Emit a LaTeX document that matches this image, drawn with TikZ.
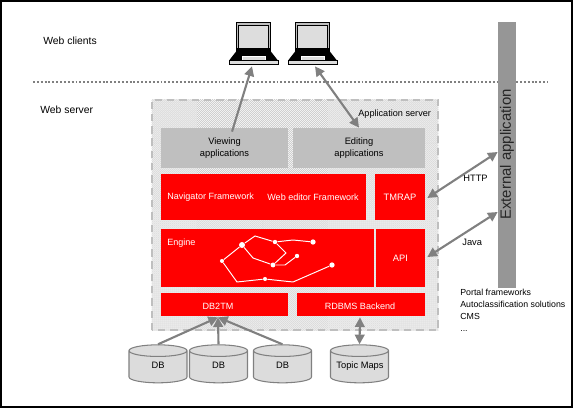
\documentclass[tikz,border=0pt]{standalone}
\usepackage{fontspec}
\setmainfont{Liberation Sans}
\usetikzlibrary{arrows.meta,calc,patterns,shapes.geometric}
\definecolor{ink}{HTML}{000000}
\definecolor{linkGrey}{HTML}{808080}
\definecolor{appGrey}{HTML}{BFBFBF}
\definecolor{barGrey}{HTML}{969696}
\definecolor{dbFill}{HTML}{DCDCDC}
\definecolor{screenFill}{HTML}{DDDDDD}
\definecolor{coreRed}{HTML}{FF0000}
\pgfdeclarepatternformonly{stipple}{\pgfqpoint{-0.1pt}{-0.1pt}}{\pgfqpoint{1.3pt}{1.3pt}}{\pgfqpoint{1.134pt}{1.134pt}}{
    \pgfpathrectangle{\pgfpointorigin}{\pgfqpoint{0.567pt}{0.567pt}}
    \pgfpathrectangle{\pgfqpoint{0.567pt}{0.567pt}}{\pgfqpoint{0.567pt}{0.567pt}}
    \pgfusepath{fill}
}
\tikzset{
    caption/.style={font=\fontsize{5.9pt}{7pt}\selectfont, text=ink, inner sep=0pt, align=left},
    appblock/.style={fill=appGrey, minimum height=0.8cm, inner sep=0pt, align=center,
                     font=\fontsize{5.3pt}{6.6pt}\selectfont, text=ink},
    coreblock/.style={fill=coreRed, inner sep=0pt, align=center,
                      font=\fontsize{5.3pt}{6.6pt}\selectfont, text=white},
    redcaption/.style={font=\fontsize{5.15pt}{6.6pt}\selectfont, text=white, inner sep=0pt},
    dbstore/.style={cylinder, shape border rotate=90, aspect=0.9, draw=linkGrey, fill=dbFill,
                    line width=0.6pt, minimum width=1.16cm, minimum height=0.76cm, inner sep=0pt,
                    font=\fontsize{5.3pt}{6.6pt}\selectfont},
    dbtext/.style={font=\fontsize{5.3pt}{6.6pt}\selectfont, text=ink, inner sep=0pt},
    laptopbox/.style={minimum width=0.98cm, minimum height=0.84cm, inner sep=0pt},
    link/.style={linkGrey, line width=1.2pt, -{Triangle[length=5.5pt,width=5.5pt]}},
    biglink/.style={linkGrey, line width=1.2pt, {Triangle[length=5.5pt,width=5.5pt]}-{Triangle[length=5.5pt,width=5.5pt]}},
    graphdot/.style={circle, fill=white, inner sep=0pt, minimum size=#1},
    graphdot/.default=2.3pt,
    graphedge/.style={white, line width=0.55pt},
    laptop/.pic={
        \draw[fill=appGrey, line width=0.5pt] (-17,-21) rectangle (17,8);
        \draw[fill=screenFill, line width=0.5pt] (-15,-18) rectangle (15,5);
        \fill[ink] (-17,5) rectangle (17,8);
        \fill[ink] (-17,8) -- (17,8) -- (24,17) -- (-24,17) -- cycle;
        \draw[white, fill=screenFill, line width=0.3pt] (-11.5,13.5) rectangle (11.5,17);
        \draw[fill=screenFill, line width=0.5pt] (-24.5,17) rectangle (24.5,21);
    },
}

\begin{document}
\begin{tikzpicture}[x=0.02cm, y=-0.02cm]
\useasboundingbox (0,0) rectangle (575,408);
\draw[ink, line width=0.6pt] (1,1) rectangle (572,407);

% ---------------------------------------------------------------------------
% Clients
% ---------------------------------------------------------------------------
\node[caption, anchor=west] (webclients) at (43,41) {Web clients};
\node[laptopbox] (laptopA) at (253.5,43) {};
\node[laptopbox] (laptopB) at (312.5,43) {};
\pic at (laptopA) {laptop};
\pic at (laptopB) {laptop};
\coordinate (tierleft) at (33,82);
\coordinate (tierright) at (548,82);
\draw[linkGrey, line width=1pt, dash pattern=on 1.1pt off 1.1pt] (tierleft) -- (tierright);

% ---------------------------------------------------------------------------
% Application server
% ---------------------------------------------------------------------------
\node[caption, anchor=west] (webserver) at (40,110) {Web server};
\node[minimum width=5.72cm, minimum height=4.6cm, inner sep=0pt, fill=white] (appserver) at (295,215) {};
\fill[pattern=stipple, pattern color=appGrey!75] (appserver.south west) rectangle (appserver.north east);
\draw[appGrey, line width=1.1pt, dash pattern=on 4.2pt off 2.8pt] (appserver.south west) rectangle (appserver.north east);
\node[caption, anchor=west, font=\fontsize{5.2pt}{6.6pt}\selectfont] (appservertext) at (358,114) {Application server};

\node[appblock, minimum width=2.54cm] (viewing) at (224.5,148) {Viewing\\applications};
\node[appblock, minimum width=2.64cm] (editing) at (359,148) {Editing\\applications};

\node[coreblock, minimum width=4.1cm, minimum height=0.92cm] (frameworks) at (263.5,197) {};
\node[redcaption, anchor=west] (navigator) at (167,197) {Navigator Framework};
\node[redcaption, anchor=west] (webeditor) at (267,197) {Web editor Framework};
\node[coreblock, minimum width=1cm, minimum height=0.92cm] (tmrap) at (400,197) {TMRAP};

\node[coreblock, minimum width=4.26cm, minimum height=1.16cm] (engine) at (267.5,258) {};
\node[redcaption, anchor=west] (enginetext) at (167,243) {Engine};
\node[coreblock, minimum width=0.98cm, minimum height=1.16cm] (api) at (400.5,258) {API};

\node[coreblock, minimum width=2.54cm, minimum height=0.46cm] (dbtm) at (224.5,304.5) {};
\node[redcaption] (dbtmtext) at (218,306.5) {DB2TM};
\node[coreblock, minimum width=2.56cm, minimum height=0.46cm] (backend) at (361,304.5) {};
\node[redcaption] (backendtext) at (360,306.5) {RDBMS Backend};

% Topic map drawn in the engine
\node[graphdot=3.4pt] (hub) at (242,245) {};
\node[graphdot] (left) at (222,261) {};
\node[graphdot] (low) at (265,279) {};
\node[graphdot=3pt] (far) at (332,265) {};
\node[graphdot=2.8pt] (mid) at (273,265) {};
\node[graphdot=2.5pt] (tip) at (297,256) {};
\node[graphdot=2.5pt] (upper) at (275,242) {};
\node[graphdot=3pt] (end) at (313,242) {};
\coordinate (bendA) at (237,282);
\coordinate (bendB) at (293,282);
\coordinate (bendC) at (255,236);
\coordinate (bendD) at (293,240);
\coordinate (bendE) at (286,253);
\coordinate (bendF) at (253,258);
\coordinate (bendG) at (285,265);
\draw[graphedge] (hub) -- (left) -- (bendA) -- (low) -- (bendB) -- (far);
\draw[graphedge] (hub) -- (bendC) -- (upper) -- (bendD) -- (end);
\draw[graphedge] (upper) -- (bendE) -- (mid);
\draw[graphedge] (hub) -- (bendF) -- (mid) -- (bendG) -- (tip);

% ---------------------------------------------------------------------------
% External application
% ---------------------------------------------------------------------------
\node[fill=barGrey, minimum width=0.36cm, minimum height=5.32cm, inner sep=0pt] (external) at (507,155) {};
\node[rotate=90, anchor=west, inner sep=0pt, text=ink!85, font=\fontsize{8.5pt}{10pt}\selectfont]
    (externaltext) at (507,220) {External application};
\node[caption, anchor=west, font=\fontsize{5.3pt}{6.6pt}\selectfont] (http) at (463,178) {HTTP};
\node[caption, anchor=west, font=\fontsize{5.3pt}{6.6pt}\selectfont] (java) at (462,242) {Java};
\node[caption, anchor=north west, font=\fontsize{5pt}{6.75pt}\selectfont] (portals) at (460,289)
    {Portal frameworks\\Autoclassification solutions\\CMS\\...};

% ---------------------------------------------------------------------------
% Stores
% ---------------------------------------------------------------------------
\node[dbstore] (dbA) at (158,367) {\phantom{DB}};
\node[dbstore] (dbB) at (218.5,367) {\phantom{DB}};
\node[dbstore] (dbC) at (282.5,367) {\phantom{DB}};
\node[dbstore] (topicmaps) at (359.5,367) {\phantom{DB}};
\node[dbtext] (dbAtext) at (158,365.5) {DB};
\node[dbtext] (dbBtext) at (218.5,365.5) {DB};
\node[dbtext] (dbCtext) at (282.5,365.5) {DB};
\node[dbtext] (topicmapstext) at (360,366) {Topic Maps};

% ---------------------------------------------------------------------------
% Connections
% ---------------------------------------------------------------------------
\draw[link] ($(viewing.north)+(7.5,4)$) -- ($(laptopA.south)+(-1.5,2)$);
\draw[biglink] (editing.north) -- ($(laptopB.south)+(2.5,2)$);
\draw[biglink] ($(tmrap.east)+(2,1)$) -- ($(external.west)+(0,-3)$);
\draw[biglink] ($(api.east)+(2,-1)$) -- ($(external.west)+(0,57)$);
\draw[link] (dbA.north) -- ($(dbtm.south)+(-6.5,1)$);
\draw[link] (dbB.north) -- ($(dbtm.south)+(-6.5,1)$);
\draw[link] (dbC.north) -- ($(dbtm.south)+(-6.5,1)$);
\draw[biglink] (topicmaps.north) -- ($(backend.south)+(-1,1)$);

\end{tikzpicture}
\end{document}
